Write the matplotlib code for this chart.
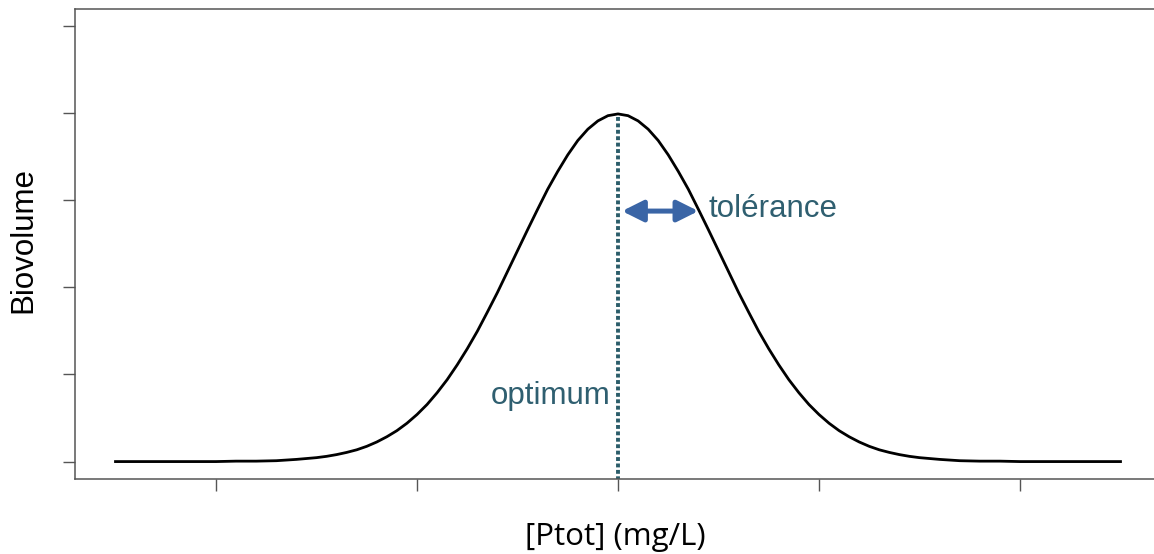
import matplotlib
matplotlib.use("Agg")
import matplotlib.pyplot as plt

# values
x_vals = [-2.5, -2.4, -2.3, -2.2, -2.1, -2.0, -1.9, -1.8, -1.7, -1.6,
          -1.5, -1.45, -1.4, -1.35, -1.3, -1.25, -1.2, -1.15, -1.1, -1.05,
          -1.0, -0.95, -0.9, -0.85, -0.8, -0.75, -0.7, -0.65, -0.6, -0.55,
          -0.5, -0.45, -0.4, -0.35, -0.3, -0.25, -0.2, -0.15, -0.1, -0.05, 0.0,
          0.05, 0.1, 0.15, 0.2, 0.25, 0.3, 0.35, 0.4, 0.45, 0.5,
          0.55, 0.6, 0.65, 0.7, 0.75, 0.8, 0.85, 0.9, 0.95, 1.0,
          1.05, 1.1, 1.15, 1.2, 1.25, 1.3, 1.35, 1.4, 1.45, 1.5,
          1.6, 1.7, 1.8, 1.9, 2.0, 2.1, 2.2, 2.3, 2.4, 2.5]
biovolume = [0.000, 0.000, 0.000, 0.000, 0.000, 0.000, 0.001, 0.001, 0.002, 0.005,
             0.009, 0.012, 0.016, 0.021, 0.027, 0.035, 0.045, 0.057, 0.071, 0.088,
             0.108, 0.131, 0.158, 0.188, 0.222, 0.259, 0.299, 0.343, 0.388, 0.436,
             0.484, 0.532, 0.579, 0.625, 0.666, 0.704, 0.737, 0.763, 0.782, 0.794, 0.798,
             0.794, 0.782, 0.763, 0.737, 0.704, 0.666, 0.625, 0.579, 0.532, 0.484,
             0.436, 0.388, 0.343, 0.299, 0.259, 0.222, 0.188, 0.158, 0.131, 0.108,
             0.088, 0.071, 0.057, 0.045, 0.035, 0.027, 0.021, 0.016, 0.012, 0.009,
             0.005, 0.002, 0.001, 0.001, 0.000, 0.000, 0.000, 0.000, 0.000, 0.000]
x_ticks = [-2, -1, 0, 1, 2]
y_ticks = [0.0, 0.2, 0.4, 0.6, 0.8, 1.0]
optimum = 0.0
tol_start, tol_end, tol_y = 0.02, 0.4, 0.575

W, H = 1154, 554
fig = plt.figure(figsize=(W / 100, H / 100), dpi=100)
ax = fig.add_axes([75.3 / W, 1 - 479 / H, (1160.7 - 75.3) / W, (479 - 8.5) / H])

ax.plot(x_vals, biovolume, color="black", lw=2.0, solid_joinstyle="round")
ax.plot([optimum, optimum], [0.79, -0.05], color="#2b5d6a", lw=2.8,
        linestyle=(0, (1.0, 0.65)), dash_capstyle="butt")
ax.annotate("", xy=(tol_end, tol_y), xytext=(tol_start, tol_y),
            arrowprops=dict(arrowstyle="<|-|>", color="#3a65a6", lw=3.6,
                            mutation_scale=32, shrinkA=0, shrinkB=0))

ax.text(-0.035, 0.133, "optimum", ha="right", va="baseline", color="#2f5f70",
        fontsize=22.5, family="Liberation Sans")
ax.text(0.448, 0.561, "tolérance", ha="left", va="baseline", color="#2f5f70",
        fontsize=22.5, family="Liberation Sans")

ax.set_xlim(-2.7, 2.7)
ax.set_ylim(-0.04, 1.04)
ax.set_xticks(x_ticks)
ax.set_yticks(y_ticks)
ax.tick_params(length=8.6, width=1.0, color="#555555", labelbottom=False, labelleft=False)
for s in ax.spines.values():
    s.set_color("#555555")
    s.set_linewidth(1.1)

fig.text(23.5 / W, 1 - 240 / H, "Biovolume", rotation=90, ha="center", va="center",
         fontsize=22.5, family="Liberation Sans")
fig.text(615 / W, 1 - 537 / H, "[Ptot] (mg/L)", ha="center", va="center",
         fontsize=22.5, family="Open Sans")

fig.savefig("out.png", dpi=100)
